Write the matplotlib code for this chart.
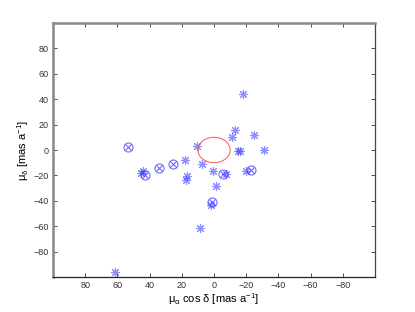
import numpy as np
import matplotlib.pyplot as plt

plt.rcParams['font.family'] = ['Liberation Sans', 'DejaVu Sans']
plt.rcParams['mathtext.fontset'] = 'custom'
plt.rcParams['mathtext.rm'] = 'Liberation Sans'
plt.rcParams['mathtext.it'] = 'Liberation Sans'

# asterisk stars
star_x = [-18.0, -13.3, -11.2, -24.9, -15.1, -16.4, -30.9, 10.8, 18.0, 7.2,
          0.4, -7.6, -19.8, 16.8, 17.2, -1.4, 2.0, 8.8, 61.8, 45.4, 43.8]
star_y = [44.2, 16.1, 10.6, 11.7, -0.8, -0.8, 0.0, 2.9, -8.1, -10.9,
          -16.9, -19.0, -16.4, -20.3, -23.4, -28.6, -43.4, -61.8, -96.1, -18.2, -16.4]

# circled-cross stars
circ_x = [53.4, 43.1, 33.9, 25.6, -5.3, -22.7, 1.0]
circ_y = [2.3, -19.7, -14.0, -10.9, -18.7, -15.6, -41.3]

# ellipse (centre, radii)
ell_c = (0.0, 0.0)
ell_r = (10.0, 10.0)

fig = plt.figure(figsize=(4.15, 3.12), dpi=100)
ax = fig.add_axes([0.1277, 0.1122, 0.776, 0.814])

blue = '#3030ff'
ax.plot(star_x, star_y, linestyle='none', marker=(8, 2, 0), markersize=6.5,
        markeredgewidth=0.8, color=blue, alpha=0.55)
ax.plot(circ_x, circ_y, linestyle='none', marker='o', markersize=6.5,
        markerfacecolor='none', markeredgewidth=0.8, color=blue, alpha=0.7)
ax.plot(circ_x, circ_y, linestyle='none', marker='x', markersize=4,
        markeredgewidth=0.8, color=blue, alpha=0.7)

t = np.linspace(0, 2 * np.pi, 200)
ax.plot(ell_c[0] + ell_r[0] * np.cos(t), ell_c[1] + ell_r[1] * np.sin(t),
        color='#ff4040', linewidth=0.8, alpha=0.8)

ax.set_xlim(100, -100)
ax.set_ylim(-100, 100)
ticks = [80, 60, 40, 20, 0, -20, -40, -60, -80]
ax.set_xticks(ticks)
ax.set_yticks(ticks)
lab = [str(v).replace('-', '\u2212') for v in ticks]
ax.set_xticklabels(lab)
ax.set_yticklabels(lab)
ax.tick_params(direction='in', length=3, width=0.6, labelsize=6.5,
               top=True, right=True, colors='#333333', pad=3)

ax.spines['left'].set_color('#888888')
ax.spines['left'].set_linewidth(1.8)
ax.spines['top'].set_color('#888888')
ax.spines['top'].set_linewidth(1.8)
ax.spines['right'].set_color('#444444')
ax.spines['right'].set_linewidth(0.9)
ax.spines['bottom'].set_color('#222222')
ax.spines['bottom'].set_linewidth(0.9)

ax.set_xlabel(r'$\mu_{\alpha}$ cos $\delta$ [mas a$^{-1}$]', fontsize=8, labelpad=1)
ax.set_ylabel(r'$\mu_{\delta}$ [mas a$^{-1}$]', fontsize=8, labelpad=2)

fig.savefig('out.png', dpi=100)
